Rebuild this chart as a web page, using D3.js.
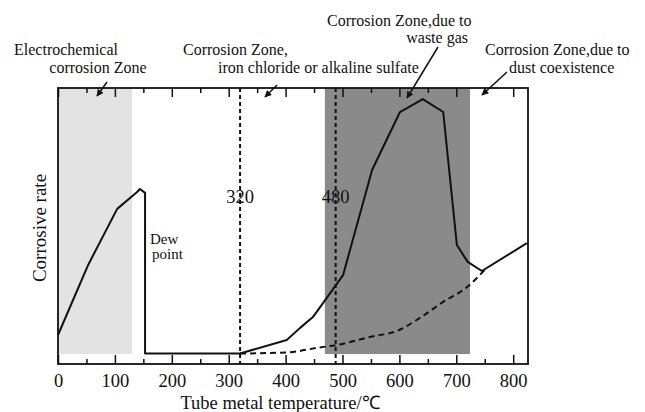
<!DOCTYPE html>
<html>
<head>
<meta charset="utf-8">
<script src="https://cdn.jsdelivr.net/npm/d3@7"></script>
<style>
  html, body { margin: 0; padding: 0; background: #fff; }
  svg { display: block; }
  text { font-family: "Liberation Serif", "Times New Roman", serif; fill: #111; }
</style>
</head>
<body>
<svg id="chart" width="645" height="412"></svg>
<script>
// ---------- data ----------
const solidTemp = [0, 53, 104, 139, 144, 153, 153, 320, 402, 425, 448, 501, 552, 601, 641, 677, 701, 720, 745, 824];
const solidRate = [10.5, 35.9, 56.2, 62.3, 63.4, 62.0, 3.8, 3.8, 8.7, 13.0, 17.0, 32.2, 70.3, 91.3, 96.0, 91.3, 43.1, 37.0, 33.7, 43.8];
const dashTemp  = [320, 402, 460, 490, 548, 596, 636, 677, 719, 750];
const dashRate  = [3.8, 4.2, 6.0, 6.9, 9.8, 12.0, 16.7, 22.5, 27.9, 34.1];
const zoneStart = [0, 469];
const zoneEnd   = [130, 724];
const zoneFloor = 3.6;
const markerTemp  = [320, 488];
const markerLabel = ["320", "480"];
const majorTicks = [0, 100, 200, 300, 400, 500, 600, 700, 800];
const minorTicks = [50, 150, 250, 350, 450, 550, 650, 750];
const xTitle = "Tube metal temperature/℃";
const yTitle = "Corrosive rate";

// ---------- layout ----------
const svg = d3.select("#chart");
const x = d3.scaleLinear().domain([0, 826]).range([58, 528]);
const y = d3.scaleLinear().domain([0, 100]).range([364, 88]);
const zoneFill = ["#e3e3e3", "#8a8a8a"];

// zones
svg.selectAll("rect.zone").data(zoneStart).join("rect")
  .attr("class", "zone")
  .attr("x", (d) => x(d))
  .attr("width", (d, i) => x(zoneEnd[i]) - x(d))
  .attr("y", y(100))
  .attr("height", y(zoneFloor) - y(100))
  .attr("fill", (d, i) => zoneFill[i]);

// marker lines
svg.selectAll("line.marker").data(markerTemp).join("line")
  .attr("class", "marker")
  .attr("x1", (d) => x(d)).attr("x2", (d) => x(d))
  .attr("y1", y(100)).attr("y2", y(0))
  .attr("stroke", "#111").attr("stroke-width", 2)
  .attr("stroke-dasharray", "4,3");

// axes (bottom and top, ticks inward)
const axB = d3.axisBottom(x).tickValues(majorTicks).tickSize(-9).tickPadding(10).tickFormat(d3.format("d"));
const axBm = d3.axisBottom(x).tickValues(minorTicks).tickSize(-5).tickFormat("");
const axT = d3.axisTop(x).tickValues(majorTicks).tickSize(-9).tickFormat("");
const axTm = d3.axisTop(x).tickValues(minorTicks).tickSize(-5).tickFormat("");

function styleAxis(g) {
  g.select(".domain").remove();
  g.selectAll(".tick line").attr("stroke", "#111").attr("stroke-width", 1.5);
  g.selectAll(".tick text").attr("font-size", 18.5).attr("font-family", "Liberation Serif").attr("fill", "#111");
}
svg.append("g").attr("transform", `translate(0,${y(0)})`).call(axB).call(styleAxis);
svg.append("g").attr("transform", `translate(0,${y(0)})`).call(axBm).call(styleAxis);
svg.append("g").attr("transform", `translate(0,${y(100)})`).call(axT).call(styleAxis);
svg.append("g").attr("transform", `translate(0,${y(100)})`).call(axTm).call(styleAxis);

// frame
svg.append("rect")
  .attr("x", x(0)).attr("y", y(100))
  .attr("width", x(826) - x(0)).attr("height", y(0) - y(100))
  .attr("fill", "none").attr("stroke", "#111").attr("stroke-width", 1.8);

// curves
const solid = solidTemp.map((t, i) => [t, solidRate[i]]);
const dashed = dashTemp.map((t, i) => [t, dashRate[i]]);
svg.append("path")
  .attr("d", d3.line().x((d) => x(d[0])).y((d) => y(d[1])).curve(d3.curveMonotoneX)(dashed))
  .attr("fill", "none").attr("stroke", "#111").attr("stroke-width", 2)
  .attr("stroke-dasharray", "6,4");
svg.append("path")
  .attr("d", d3.line().x((d) => x(d[0])).y((d) => y(d[1]))(solid))
  .attr("fill", "none").attr("stroke", "#111").attr("stroke-width", 2)
  .attr("stroke-linejoin", "round");

// marker labels
svg.selectAll("text.mlabel").data(markerTemp).join("text")
  .attr("class", "mlabel")
  .attr("x", (d) => x(d)).attr("y", 203)
  .attr("text-anchor", "middle").attr("font-size", 18.5)
  .text((d, i) => markerLabel[i]);

// axis titles
svg.append("text").attr("x", 280).attr("y", 409).attr("text-anchor", "middle")
  .attr("font-size", 18.5).text(xTitle);
svg.append("text").attr("transform", "translate(46,228) rotate(-90)")
  .attr("text-anchor", "middle").attr("font-size", 19).text(yTitle);

// annotations
const notes = [
  { t: "Electrochemical", x: 66, y: 55, a: "middle", s: 16 },
  { t: "corrosion Zone", x: 98, y: 73, a: "middle", s: 16 },
  { t: "Corrosion Zone,", x: 183, y: 55, a: "start", s: 16 },
  { t: "iron chloride or alkaline sulfate", x: 218, y: 73, a: "start", s: 16 },
  { t: "Corrosion Zone,due to", x: 327, y: 26, a: "start", s: 16 },
  { t: "waste gas", x: 468, y: 43, a: "end", s: 16 },
  { t: "Corrosion Zone,due to", x: 485, y: 55, a: "start", s: 16 },
  { t: "dust coexistence", x: 509, y: 73, a: "start", s: 16 },
  { t: "Dew", x: 150, y: 244, a: "start", s: 15 },
  { t: "point", x: 152, y: 259, a: "start", s: 15 }
];
svg.selectAll("text.note").data(notes).join("text")
  .attr("class", "note")
  .attr("x", (d) => d.x).attr("y", (d) => d.y)
  .attr("text-anchor", (d) => d.a).attr("font-size", (d) => d.s)
  .text((d) => d.t);

// arrows
svg.append("defs").append("marker")
  .attr("id", "ah").attr("viewBox", "0 0 10 10").attr("refX", 9).attr("refY", 5)
  .attr("markerWidth", 8).attr("markerHeight", 7).attr("markerUnits", "userSpaceOnUse")
  .attr("orient", "auto")
  .append("path").attr("d", "M0,0 L10,5 L0,10 Z").attr("fill", "#111");
const arrows = [
  [107, 82, 97, 96],
  [277, 85, 265, 97],
  [438, 47, 407, 98],
  [507, 72, 482, 95]
];
svg.selectAll("line.arrow").data(arrows).join("line")
  .attr("class", "arrow")
  .attr("x1", (d) => d[0]).attr("y1", (d) => d[1])
  .attr("x2", (d) => d[2]).attr("y2", (d) => d[3])
  .attr("stroke", "#111").attr("stroke-width", 1.5)
  .attr("marker-end", "url(#ah)");
</script>
</body>
</html>
